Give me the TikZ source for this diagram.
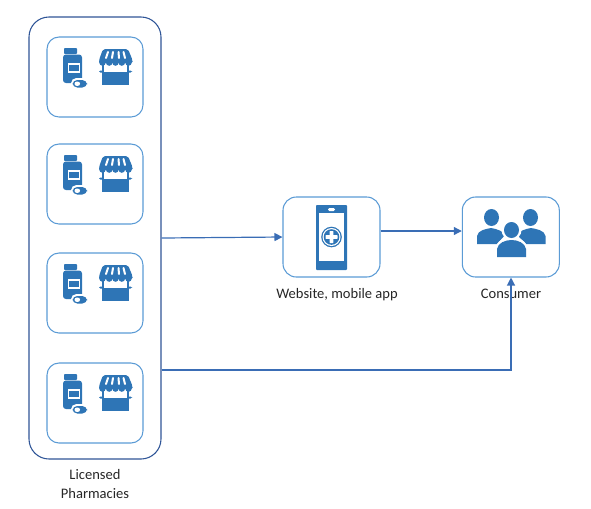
\documentclass[tikz,border=0pt]{standalone}
\usepackage{fontspec}
\setmainfont{Carlito}
\usetikzlibrary{arrows.meta}
\definecolor{iconblue}{HTML}{2E75B6}
\definecolor{boxblue}{HTML}{5B9BD5}
\definecolor{outerblue}{HTML}{2F5597}
\definecolor{linkblue}{HTML}{3A6DB5}
\tikzset{
  cellbox/.style={draw=boxblue, line width=0.8pt, rounded corners=9pt, minimum width=72pt, minimum height=60pt, inner sep=0pt},
  outerbox/.style={draw=outerblue, line width=0.8pt, rounded corners=15pt, minimum width=99pt, minimum height=331.5pt, inner sep=0pt},
  appbox/.style={draw=boxblue, line width=0.8pt, rounded corners=10pt, minimum width=72.75pt, minimum height=60pt, inner sep=0pt},
  caption/.style={font=\fontsize{10.9pt}{13.6pt}\selectfont, text=black!85, align=center},
  link/.style={draw=linkblue, line width=0.9pt, -{Triangle[length=6pt,width=6pt]}},
  pics/pharmacy/.style={code={
    % bottle
    \fill[iconblue, rounded corners=0.7pt] (17,11) rectangle (30,17);
    \fill[iconblue, rounded corners=2.2pt] (16,17.5) rectangle (35,46);
    \fill[white] (20.5,26) rectangle (33,35.5);
    \fill[iconblue] (21.5,27.5) rectangle (32,34);
    % pill
    \fill[white, rounded corners=4pt] (24,41) rectangle (41.5,52);
    \fill[iconblue, rounded corners=3.5pt] (25.5,43) rectangle (40,50.5);
    \fill[white, rounded corners=1.5pt] (27.5,44.7) rectangle (33,48.8);
    % stall
    \fill[iconblue] (55,25) rectangle (82,48);
    \fill[iconblue, rounded corners=1pt] (52,33.5) rectangle (85,35.5);
    \fill[iconblue, rounded corners=1.5pt] (56,12) -- (81,12) -- (85.5,23) -- (85.5,26) -- (52,26) -- (52,23) -- cycle;
    \fill[white] (57,26) rectangle (80,35);
    \foreach \sx in {55.5,62.2,68.5,74.8,81.5}
      \fill[iconblue] (\sx,25.5) circle (3.3);
    \foreach \tx/\bx in {61/59,66/65,71.5/72,76.5/78}
      \draw[white, line width=1.5pt, line cap=round] (\tx,15) -- (\bx,21);
  }}
}
\begin{document}
\begin{tikzpicture}[x=0.75pt, y=-0.75pt]
\useasboundingbox (0,0) rectangle (591,508);
% pharmacies on the left
\node[outerbox] (pharmacies) at (95,238) {};
\foreach \n/\y in {1/37, 2/144, 3/253, 4/363} {
  \node[cellbox] (cell\n) at (95,\y+40) {};
  \pic at (47,\y) {pharmacy};
}
\node[caption] (pharmacylabel) at (95,484) {Licensed\\Pharmacies};
% phone
\node[appbox] (app) at (331.5,237) {};
\fill[iconblue, rounded corners=0.7pt] (316,205) rectangle (347,270);
\fill[white] (319,213) rectangle (344,261);
\fill[white, rounded corners=1pt] (328,208) rectangle (335,211);
\fill[iconblue] (331.5,237) circle (10.3);
\fill[white] (331.5,237) circle (9);
\fill[iconblue] (331.5,237) circle (7.8);
\fill[white, rounded corners=0.4pt] (329.7,231) rectangle (333.3,243);
\fill[white, rounded corners=0.4pt] (325.5,235.2) rectangle (337.5,238.8);
\node[caption] (applabel) at (337,295) {Website, mobile app};
% consumer
\node[appbox] (consumer) at (510.8,237) {};
\fill[iconblue] (491.5,217.5) ellipse (7.5 and 8.5);
\fill[iconblue] (530.5,217.5) ellipse (7.5 and 8.5);
\fill[iconblue] (477,244) -- (477,236) .. controls (478,230) and (486,229) .. (491,228) .. controls (497,229) and (503,231) .. (505,235) -- (497,244) -- cycle;
\fill[iconblue] (545.5,244) -- (545.5,236) .. controls (544.5,230) and (536,229) .. (531,228) .. controls (525,229) and (519,231) .. (517,235) -- (526,244) -- cycle;
\fill[white] (511.5,230) circle (10);
\fill[white] (495,257.5) -- (495,250) .. controls (496,241) and (504,237) .. (511.5,237) .. controls (519,237) and (527,241) .. (528,250) -- (528,257.5) -- cycle;
\fill[iconblue] (511.5,230) ellipse (7.5 and 8);
\fill[iconblue] (497,257) -- (497,249) .. controls (498,243) and (505,240) .. (511.5,240) .. controls (518,240) and (525,243) .. (526,249) -- (526,257) -- cycle;
\node[caption] (consumerlabel) at (511,294) {Consumer};
% links
\draw[link] (pharmacies.east) -- (app.west);
\draw[link] (app.east |- 0,231) -- (consumer.west |- 0,231);
\draw[link] (pharmacies.east |- 0,370) -| (consumer.south -| 511,0);
\end{tikzpicture}
\end{document}
